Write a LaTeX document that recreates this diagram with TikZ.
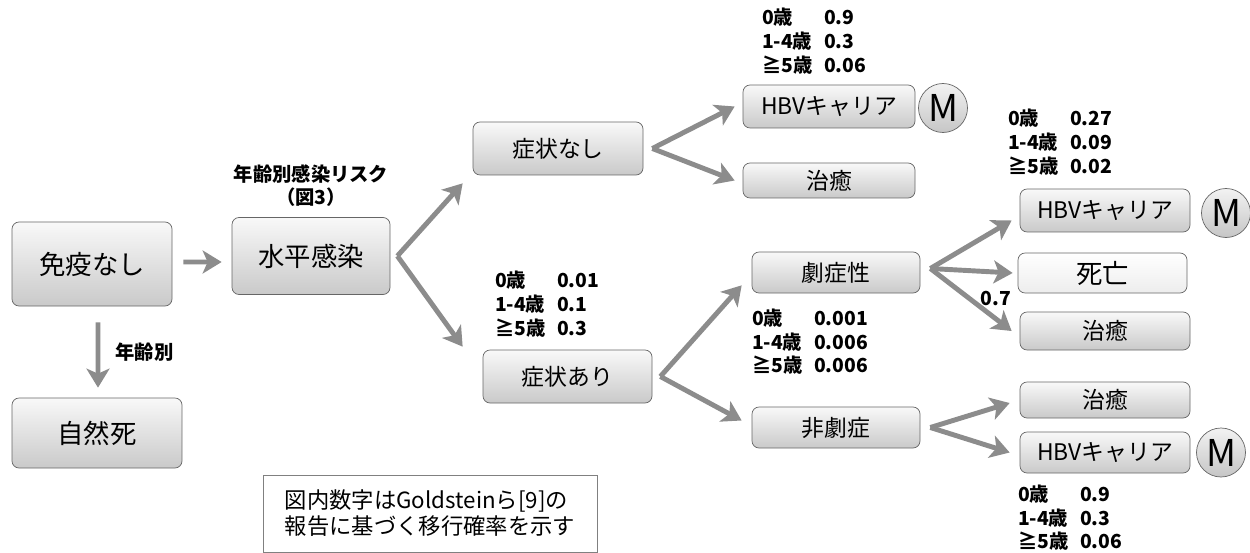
\documentclass[tikz,border=0pt]{standalone}
\usepackage{fontspec}
\setmainfont{Noto Sans CJK JP}
\usepackage{tikz}
\usetikzlibrary{shapes, arrows.meta, positioning, calc}
\tikzstyle{stage} = [rectangle, rounded corners=4pt, minimum width=3.4cm, minimum height=0.82cm, text centered, draw=black!60, top color=gray!5, bottom color=gray!42, font=\fontsize{13}{16}\selectfont]
\tikzstyle{bigstage} = [stage, minimum height=1.6cm, font=\fontsize{15}{18}\selectfont]
\tikzstyle{lightstage} = [stage, top color=white, bottom color=gray!14, font=\fontsize{15}{18}\selectfont]
\tikzstyle{markov} = [circle, minimum size=0.98cm, inner sep=0pt, text centered, draw=black!60, top color=gray!10, bottom color=gray!45, font=\fontsize{21}{21}\selectfont]
\tikzstyle{probs} = [inner sep=0pt, font=\fontsize{11}{13.5}\selectfont\bfseries]
\tikzstyle{notebox} = [rectangle, draw=black!50, minimum width=6.68cm, minimum height=1.54cm, align=left, font=\fontsize{12.7}{14.8}\selectfont]
\tikzstyle{flow} = [draw=black!45, line width=2.8pt, -{Stealth[length=0.38cm, width=0.46cm, inset=0.1cm]}]
\newcommand{\agetab}[3]{\begin{tabular}{@{}l@{\hspace{0.6em}}l@{}}0歳 & #1\\1-4歳 & #2\\≧5歳 & #3\end{tabular}}

\begin{document}
\begin{tikzpicture}[node distance=4cm]
\useasboundingbox (0,0) rectangle (25,-11.06);
\node (noimm) [bigstage, minimum width=3.2cm, minimum height=1.68cm] at (1.84,-5.28) {免疫なし};
\node (infect) [bigstage, right of=noimm, xshift=0.38cm, yshift=0.16cm, minimum width=3.16cm, minimum height=1.54cm] {水平感染};
\node (death) [bigstage, below of=noimm, xshift=0.10cm, yshift=0.62cm, minimum height=1.4cm] {自然死};
\node (nosym) [stage, right of=infect, xshift=0.94cm, yshift=2.15cm, minimum height=1.06cm] {症状なし};
\node (sym) [stage, right of=infect, xshift=1.13cm, yshift=-2.41cm, minimum width=3.38cm, minimum height=1.06cm] {症状あり};
\node (hbv1) [stage, right of=nosym, xshift=1.42cm, yshift=0.84cm, minimum width=3.44cm, minimum height=0.86cm] {HBVキャリア};
\node (m1) [markov, right of=hbv1, xshift=-1.72cm, yshift=-0.03cm] {M};
\node (cure1) [stage, below of=hbv1, yshift=2.52cm, minimum width=3.44cm, minimum height=0.7cm] {治癒};
\node (fulm) [stage, right of=sym, xshift=1.37cm, yshift=2.08cm, minimum width=3.36cm] {劇症性};
\node (nonfulm) [stage, right of=sym, xshift=1.37cm, yshift=-1.02cm, minimum width=3.36cm] {非劇症};
\node (hbv2) [stage, right of=fulm, xshift=1.38cm, yshift=1.24cm, minimum height=0.86cm] {HBVキャリア};
\node (m2) [markov, right of=hbv2, xshift=-1.58cm, yshift=-0.05cm] {M};
\node (dead) [lightstage, right of=fulm, xshift=1.33cm, yshift=-0.01cm, minimum width=3.38cm, minimum height=0.8cm] {死亡};
\node (cure2) [stage, right of=fulm, xshift=1.38cm, yshift=-1.17cm, minimum height=0.76cm] {治癒};
\node (cure3) [stage, right of=nonfulm, xshift=1.38cm, yshift=0.55cm, minimum height=0.72cm] {治癒};
\node (hbv3) [stage, right of=nonfulm, xshift=1.38cm, yshift=-0.50cm] {HBVキャリア};
\node (m3) [markov, right of=hbv3, xshift=-1.68cm] {M};
\node (note) [notebox, below of=infect, xshift=2.38cm, yshift=-1.15cm] {図内数字はGoldsteinら[9]の\\報告に基づく移行確率を示す};
% probabilities
\node (risk) [probs, align=center, anchor=south] at ([yshift=0.2cm]infect.north) {年齢別感染リスク\\（図3）};
\node (agebr) [probs, anchor=west] at (2.30,-7.04) {年齢別};
\node (p1) [probs, anchor=south west] at ([xshift=0.38cm,yshift=0.1cm]hbv1.north west) {\agetab{0.9}{0.3}{0.06}};
\node (p2) [probs, anchor=south west] at ([xshift=0.24cm,yshift=0.14cm]sym.north west) {\agetab{0.01}{0.1}{0.3}};
\node (p3) [probs, anchor=north west] at ([yshift=-0.3cm]fulm.south west) {\agetab{0.001}{0.006}{0.006}};
\node (p4) [probs, anchor=south west] at ([xshift=-0.24cm,yshift=0.16cm]hbv2.north west) {\agetab{0.27}{0.09}{0.02}};
\node (p5) [probs, anchor=north west] at ([xshift=-0.04cm,yshift=-0.22cm]hbv3.south west) {\agetab{0.9}{0.3}{0.06}};
\node (p6) [probs] at (19.92,-5.96) {0.7};
% arrows
\draw[flow] ([xshift=0.22cm,yshift=0.04cm]noimm.east) -- ([xshift=-0.2cm,yshift=-0.12cm]infect.west);
\draw[flow] ([xshift=0.12cm,yshift=-0.32cm]noimm.south) -- ([xshift=0.02cm,yshift=0.2cm]death.north);
\draw[flow] ([xshift=0.14cm]infect.east) -- ([shift={(-0.2,-0.16)}]nosym.south west);
\draw[flow] ([xshift=0.14cm]infect.east) -- ([shift={(-0.4,0.06)}]sym.north west);
\draw[flow] ([xshift=0.18cm]nosym.east) -- ([xshift=-0.16cm]hbv1.west);
\draw[flow] ([xshift=0.18cm]nosym.east) -- ([xshift=-0.16cm]cure1.west);
\draw[flow] ([xshift=0.16cm]sym.east) -- ([shift={(-0.2,0.16)}]fulm.south west);
\draw[flow] ([xshift=0.16cm]sym.east) -- ([shift={(-0.2,0.14)}]nonfulm.west);
\draw[flow] ([shift={(0.2,0.08)}]fulm.east) -- ([shift={(-0.16,-0.2)}]hbv2.west);
\draw[flow] ([shift={(0.2,0.08)}]fulm.east) -- ([xshift=-0.1cm]dead.west);
\draw[flow] ([shift={(0.2,0.08)}]fulm.east) -- ([xshift=-0.16cm]cure2.west);
\draw[flow] ([xshift=0.2cm]nonfulm.east) -- ([shift={(-0.2,-0.06)}]cure3.west);
\draw[flow] ([xshift=0.2cm]nonfulm.east) -- ([xshift=-0.2cm]hbv3.west);
\end{tikzpicture}
\end{document}
